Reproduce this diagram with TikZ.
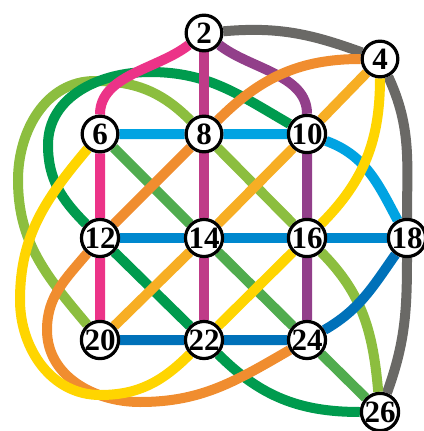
\documentclass[tikz,border=0pt]{standalone}
\usepackage{fontspec}
\setmainfont{Liberation Serif}
\pgfdeclarelayer{bg}
\pgfsetlayers{bg,main}
\definecolor{cPink}{HTML}{EC3388}
\definecolor{cMag}{HTML}{BF3B88}
\definecolor{cPurp}{HTML}{923F8A}
\definecolor{cGray}{HTML}{6A6966}
\definecolor{cCyan}{HTML}{00A3E2}
\definecolor{cBlue}{HTML}{0088CE}
\definecolor{cDBlue}{HTML}{0071B9}
\definecolor{cGold}{HTML}{F7AE24}
\definecolor{cOrange}{HTML}{F08D2F}
\definecolor{cYellow}{HTML}{FFD500}
\definecolor{cDGreen}{HTML}{009B4E}
\definecolor{cLGreen}{HTML}{8CBE3F}
\definecolor{cMGreen}{HTML}{50AC4E}
\begin{document}
\begin{tikzpicture}[x=1pt,y=1pt,
  stn/.style={circle,draw=black,line width=3.2pt,fill=white,inner sep=0pt,
    minimum size=35.7pt,font=\fontsize{31}{31}\selectfont\bfseries},
  ln/.style={line width=10pt}]
\useasboundingbox (0,0) rectangle (423,-431);
\node[stn] (n2)  at (204,-33)  {2};
\node[stn] (n4)  at (380,-59)  {4};
\node[stn] (n6)  at (100,-134) {6};
\node[stn] (n8)  at (204,-134) {8};
\node[stn] (n10) at (307,-134) {10};
\node[stn] (n12) at (100,-238) {12};
\node[stn] (n14) at (204,-238) {14};
\node[stn] (n16) at (307,-238) {16};
\node[stn] (n18) at (407,-238) {18};
\node[stn] (n20) at (100,-340) {20};
\node[stn] (n22) at (204,-340) {22};
\node[stn] (n24) at (307,-340) {24};
\node[stn] (n26) at (380,-412) {26};
\begin{pgfonlayer}{bg}
\draw[ln,cGray] (n2) to[out=5,in=160] (n4) to[out=-65,in=90] (n18) to[out=-90,in=70] (n26);
\draw[ln,cLGreen] (n20) to[out=130,in=270] (18,-180) to[out=90,in=180] (95,-81) to[out=0,in=135] (n8) -- (n16) to[out=-45,in=95] (n26);
\draw[ln,cDGreen] (n10) to[out=150,in=0] (150,-72) to[out=180,in=90] (48,-145) to[out=270,in=135] (n12) -- (n22) to[out=-45,in=180] (n26);
\draw[ln,cMGreen] (n6) -- (n14) -- (n24) -- (n26);
\draw[ln,cPurp] (n2) to[out=-38,in=90,looseness=0.9] (n10) -- (n16) -- (n24);
\draw[ln,cMag] (n2) -- (n8) -- (n14) -- (n22);
\draw[ln,cPink] (n2) to[out=218,in=90,looseness=0.9] (n6) -- (n12) -- (n20);
\draw[ln,cCyan] (n6) -- (n8) -- (n10) to[out=-20,in=118] (n18);
\draw[ln,cBlue] (n12) -- (n14) -- (n16) -- (n18);
\draw[ln,cDBlue] (n20) -- (n22) -- (n24) to[out=30,in=235] (n18);
\draw[ln,cGold] (n4) -- (n10) -- (n14) -- (n20);
\draw[ln,cOrange] (n4) to[out=180,in=45] (n8) -- (n12) to[out=230,in=90] (47,-330) to[out=270,in=180] (140,-402) to[out=0,in=210] (n24);
\draw[ln,cYellow] (n4) to[out=-90,in=45] (n16) -- (n22) to[out=225,in=0] (100,-395) to[out=180,in=270] (20,-300) to[out=90,in=230] (n6);
\end{pgfonlayer}
\end{tikzpicture}
\end{document}
